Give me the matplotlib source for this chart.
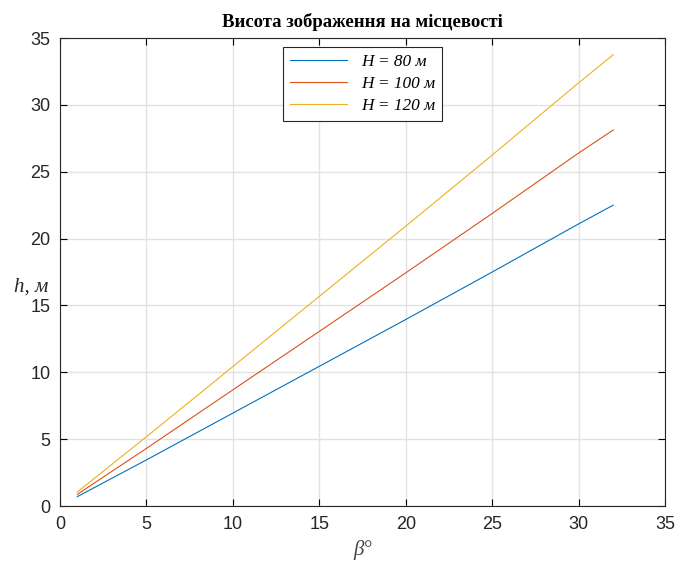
import matplotlib
matplotlib.use("Agg")
import matplotlib.pyplot as plt

# кут beta, градуси
beta = [1, 5, 10, 15, 20, 25, 30, 32]
# висота зображення h, м
h80 = [0.70, 3.45, 6.95, 10.45, 13.95, 17.50, 21.10, 22.50]
h100 = [0.87, 4.31, 8.69, 13.06, 17.44, 21.88, 26.40, 28.12]
h120 = [1.05, 5.18, 10.43, 15.68, 20.93, 26.25, 31.65, 33.75]
labels = ["H = 80 м", "H = 100 м", "H = 120 м"]

fig = plt.figure(figsize=(6.78, 5.63), dpi=100)
ax = fig.add_axes([0.0885, 0.1012, 0.8925, 0.8313])

ax.plot(beta, h80, color="#0072BD", lw=0.8, label=labels[0])
ax.plot(beta, h100, color="#D95319", lw=0.8, label=labels[1])
ax.plot(beta, h120, color="#EDB120", lw=0.8, label=labels[2])

ax.set_xlim(0, 35)
ax.set_ylim(0, 35)
ax.set_xticks(range(0, 36, 5))
ax.set_yticks(range(0, 36, 5))
ax.grid(True, color="#e2e2e2", lw=1.0)
ax.tick_params(direction="in", top=True, right=True, labelsize=13, length=5, width=0.8, pad=7)
for lab in ax.get_xticklabels() + ax.get_yticklabels():
    lab.set_family("Liberation Sans")
    lab.set_color("#262626")
for s in ax.spines.values():
    s.set_color("#262626")
    s.set_linewidth(0.8)

ax.set_title("Висота зображення на місцевості", family="Liberation Serif",
             fontweight="bold", fontsize=13.5, pad=8)
ax.set_xlabel("β°", family="Liberation Serif", style="italic", fontsize=15, color="#444444",
              labelpad=5)
ax.set_ylabel("h, м", family="Liberation Serif", style="italic", fontsize=15,
              rotation=0, color="#262626", va="center")
ax.yaxis.set_label_coords(-0.048, 0.468)

leg = ax.legend(loc="upper center", bbox_to_anchor=(0.5, 0.98), borderaxespad=0,
                fancybox=False, framealpha=1, edgecolor="#262626",
                handlelength=3.3, handletextpad=0.8, labelspacing=0.35, borderpad=0.4,
                prop={"family": "Liberation Serif", "style": "italic", "size": 12.4})
leg.get_frame().set_linewidth(0.8)

fig.savefig("out.png", dpi=100)
